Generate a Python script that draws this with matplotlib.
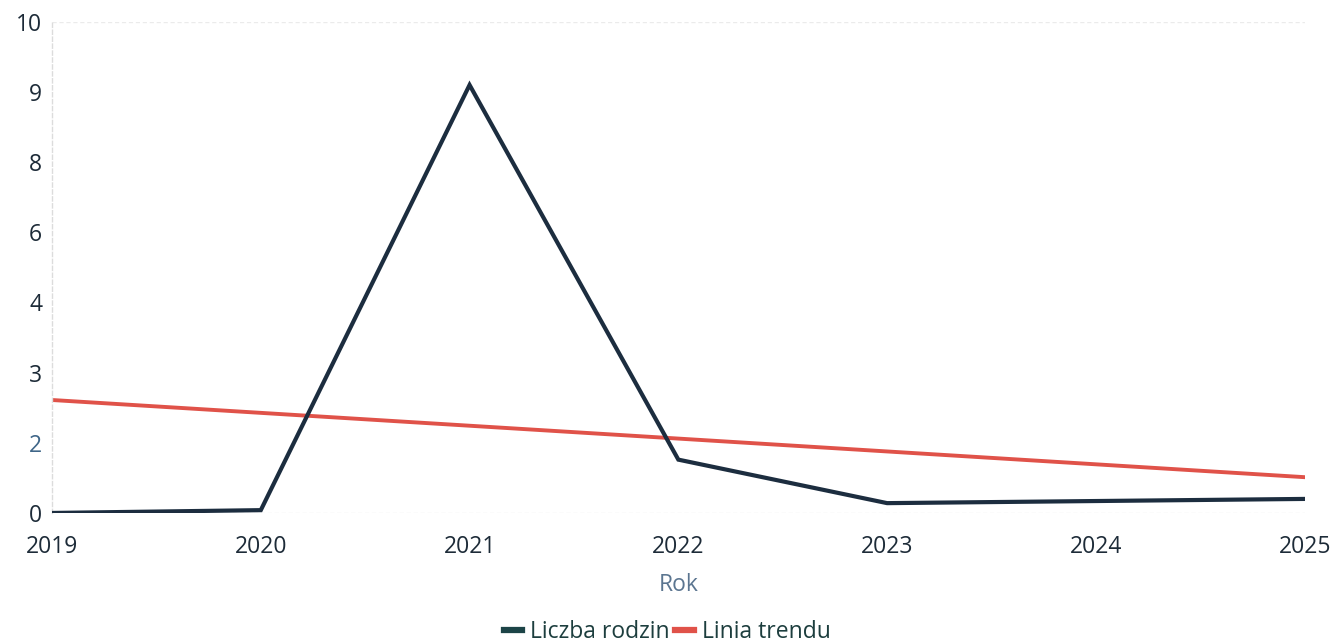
import matplotlib
matplotlib.use("Agg")
import matplotlib.pyplot as plt
import numpy as np

plt.rcParams['font.family'] = ['Open Sans', 'DejaVu Sans']

years = [2019, 2020, 2021, 2022, 2023, 2024, 2025]
liczba_rodzin = [0.0, 0.08, 9.1, 1.52, 0.28, 0.34, 0.4]
trend_years = [2019, 2025]
trend_values = [2.61, 1.02]
y_ticks = [0, 2, 3, 4, 6, 8, 9, 10]

# the axis labels are evenly spaced although the values are not
positions = np.arange(len(y_ticks), dtype=float)


def forward(v):
    return np.interp(v, y_ticks, positions)


def inverse(p):
    return np.interp(p, positions, y_ticks)


fig = plt.figure(figsize=(13.34, 6.42), dpi=100)
ax = fig.add_axes([0.039, 0.201, 0.939, 0.765])
ax.set_yscale('function', functions=(forward, inverse))

ax.plot(years, liczba_rodzin, color='#1c2d3f', lw=3.0, label='Liczba rodzin',
        solid_joinstyle='miter', zorder=3)
ax.plot(trend_years, trend_values, color='#e05249', lw=2.8, label='Linia trendu', zorder=2)

ax.set_xlim(2019, 2025)
ax.set_ylim(0, 10)
ax.set_xticks(years)
ax.set_yticks(y_ticks)
ax.tick_params(axis='x', length=0, pad=16, labelsize=16.5, labelcolor='#1d2b38')
ax.tick_params(axis='y', length=0, pad=7, labelsize=16.5, labelcolor='#1d2b38')
ax.get_yticklabels()[1].set_color('#3f6688')

for s in ['top', 'right', 'bottom']:
    ax.spines[s].set_visible(False)
ax.spines['left'].set_color('#dcdcdc')
ax.spines['left'].set_linestyle((0, (3, 2)))
ax.spines['left'].set_linewidth(1.0)

for v in [0, 10]:
    ax.axhline(v, color='#ebebeb', lw=1.0, ls=(0, (3, 2)), zorder=1)

ax.set_xlabel('Rok', fontsize=16.5, color='#5b7590', labelpad=10)

leg = fig.legend(loc='lower center', bbox_to_anchor=(0.5, -0.035), ncol=2,
                 frameon=False, fontsize=16.5, handlelength=0.8, handletextpad=0.35,
                 columnspacing=0.25)
for line in leg.get_lines():
    line.set_linewidth(4.5)
for t in leg.get_texts():
    t.set_color('#1d3e3e')
leg.get_lines()[0].set_color('#1c4447')

fig.savefig('out.png', dpi=100)
